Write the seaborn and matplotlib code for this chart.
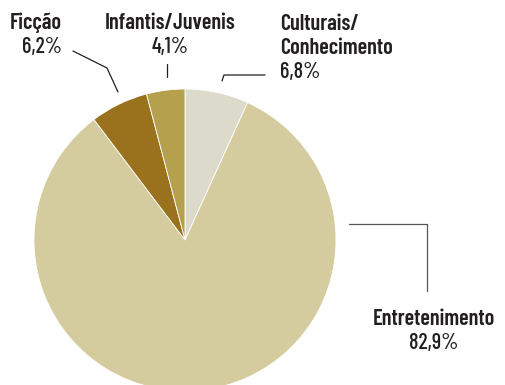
import matplotlib
matplotlib.use("Agg")
import matplotlib.pyplot as plt
import seaborn as sns
from matplotlib.lines import Line2D

categories = ["Culturais/\nConhecimento", "Entretenimento", "Ficção", "Infantis/Juvenis"]
values = [6.8, 82.9, 6.2, 4.1]
value_labels = ["6,8%", "82,9%", "6,2%", "4,1%"]
colors = ["#dcdacb", "#d4cb9f", "#9a721e", "#b5a04e"]

sns.set_theme(style="white")
plt.rcParams['font.family'] = ['Barlow Condensed', 'DejaVu Sans']

W, H = 506, 385
fig = plt.figure(figsize=(W / 100, H / 100), dpi=100)
fig.patch.set_facecolor("white")

cx, cy, r = 185, 240, 151
ax = fig.add_axes([(cx - r) / W, (H - cy - r) / H, 2 * r / W, 2 * r / H])
ax.pie(values, colors=colors, startangle=90, counterclock=False, radius=1,
       wedgeprops=dict(edgecolor="white", linewidth=0.6))
ax.set_xlim(-1, 1)
ax.set_ylim(-1, 1)
ax.set_aspect("auto")
ax.axis("off")

def P(x, y):
    return x / W, (H - y) / H

tc = "#231f20"
fs = 16

def label(x, y, name, pct, ha):
    lines = name.split("\n")
    for i, ln in enumerate(lines):
        fig.text(*P(x, y + 24 * i), ln, ha=ha, va="baseline", fontsize=fs,
                 fontweight=600, color=tc)
    fig.text(*P(x, y + 24 * len(lines)), pct, ha=ha, va="baseline", fontsize=fs,
             fontweight=500, color=tc)

label(62, 29, categories[2], value_labels[2], "right")
label(170, 29, categories[3], value_labels[3], "center")
label(280, 30, categories[0], value_labels[0], "left")
label(434, 325, categories[1], value_labels[1], "center")

def leader(xs, ys, color="#231f20", lw=0.9):
    pts = [P(x, y) for x, y in zip(xs, ys)]
    fig.add_artist(Line2D([p[0] for p in pts], [p[1] for p in pts],
                          color=color, lw=lw, transform=fig.transFigure))

leader([73, 107, 118], [51, 68, 92])
leader([167, 167], [64, 77])
leader([222, 224, 265], [81, 75, 75])
leader([349, 427, 427], [224, 224, 291], color="#555555")

fig.savefig("out.png", dpi=100, facecolor="white")
